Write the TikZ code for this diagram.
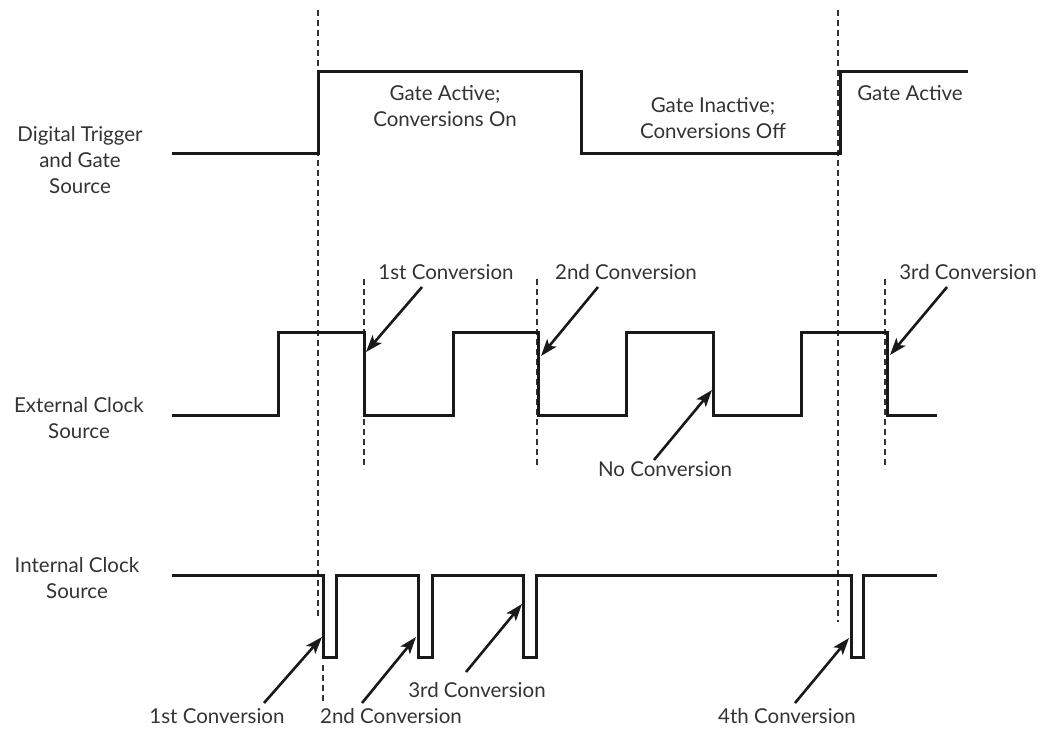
\documentclass[tikz,border=0pt]{standalone}
\usepackage{fontspec}
\setmainfont{Lato}
\usetikzlibrary{arrows,arrows.meta,positioning}
\usepackage{xcolor}

\begin{document}
\begin{tikzpicture}[x=1pt, y=-1pt, every node/.style={
    inner sep=0pt,
    align=center,
    text=black!80,
    font=\fontsize{20.5}{26}\selectfont
}]
    \useasboundingbox (0,0) rectangle (1048,736);

    % signal names
    \node (trigger_name) at (80,160) {Digital Trigger\\and Gate\\Source};
    \node (ext_clock_name) at (79,418) {External Clock\\Source};
    \node (int_clock_name) at (77,578) {Internal Clock\\Source};

    % gate states
    \node (gate_on) at (445,106) {Gate Active;\\Conversions On};
    \node (gate_off) at (713,118) {Gate Inactive;\\Conversions Off};
    \node (gate_on_again) at (910,93) {Gate Active};

    % external clock labels
    \node (ext_conv_1) at (446,272) {1st Conversion};
    \node (ext_conv_2) at (626,272) {2nd Conversion};
    \node (ext_conv_3) at (968,272) {3rd Conversion};
    \node (ext_no_conv) at (665,469) {No Conversion};

    % internal clock labels
    \node (int_conv_1) at (217,716) {1st Conversion};
    \node (int_conv_2) at (391,716) {2nd Conversion};
    \node (int_conv_3) at (477,690) {3rd Conversion};
    \node (int_conv_4) at (787,716) {4th Conversion};

    % arrow ends
    \coordinate (ext_conv_1_tail) at (422,287);
    \coordinate (ext_conv_1_tip) at (366,352);
    \coordinate (ext_conv_2_tail) at (598,287);
    \coordinate (ext_conv_2_tip) at (541,356);
    \coordinate (ext_conv_3_tail) at (947,287);
    \coordinate (ext_conv_3_tip) at (890,355);
    \coordinate (ext_no_conv_tail) at (654,460);
    \coordinate (ext_no_conv_tip) at (712,390);
    \coordinate (int_conv_1_tail) at (264,703);
    \coordinate (int_conv_1_tip) at (322,637);
    \coordinate (int_conv_2_tail) at (362,703);
    \coordinate (int_conv_2_tip) at (416,637);
    \coordinate (int_conv_3_tail) at (466,672);
    \coordinate (int_conv_3_tip) at (522,604);
    \coordinate (int_conv_4_tail) at (795,703);
    \coordinate (int_conv_4_tip) at (849,638);

    % time markers
    \draw[black!80, line width=1.2pt, dash pattern=on 6pt off 4pt] (318,10) -- (318,618);
    \draw[black!80, line width=1.2pt, dash pattern=on 6pt off 4pt] (323,665) -- (323,702);
    \draw[black!80, line width=1.2pt, dash pattern=on 6pt off 4pt] (838,10) -- (838,622);
    \draw[black!80, line width=1.2pt, dash pattern=on 6pt off 4pt] (364,279) -- (364,469);
    \draw[black!80, line width=1.2pt, dash pattern=on 6pt off 4pt] (537,279) -- (537,469);
    \draw[black!80, line width=1.2pt, dash pattern=on 6pt off 4pt] (885,279) -- (885,469);

    % waveforms
    \draw[black!90, line width=3pt]
        (172,153) -- (318,153) -- (318,71) -- (581,71) -- (581,153)
        -- (840,153) -- (840,71) -- (968,71);

    \draw[black!90, line width=3pt]
        (172,415) -- (278,415) -- (278,332) -- (364,332) -- (364,415)
        -- (453,415) -- (453,332) -- (538,332) -- (538,415)
        -- (626,415) -- (626,332) -- (713,332) -- (713,415)
        -- (801,415) -- (801,332) -- (887,332) -- (887,415) -- (937,415);

    \draw[black!90, line width=3pt]
        (172,575) -- (323,575) -- (323,657) -- (336,657) -- (336,575)
        -- (418,575) -- (418,657) -- (432,657) -- (432,575)
        -- (523,575) -- (523,657) -- (536,657) -- (536,575)
        -- (851,575) -- (851,657) -- (863,657) -- (863,575) -- (937,575);

    % pointers
    \draw[-{Stealth[length=17pt, width=12pt, inset=4pt]}, black!90, line width=2.6pt] (ext_conv_1_tail) to (ext_conv_1_tip);
    \draw[-{Stealth[length=17pt, width=12pt, inset=4pt]}, black!90, line width=2.6pt] (ext_conv_2_tail) to (ext_conv_2_tip);
    \draw[-{Stealth[length=17pt, width=12pt, inset=4pt]}, black!90, line width=2.6pt] (ext_conv_3_tail) to (ext_conv_3_tip);
    \draw[-{Stealth[length=17pt, width=12pt, inset=4pt]}, black!90, line width=2.6pt] (ext_no_conv_tail) to (ext_no_conv_tip);
    \draw[-{Stealth[length=17pt, width=12pt, inset=4pt]}, black!90, line width=2.6pt] (int_conv_1_tail) to (int_conv_1_tip);
    \draw[-{Stealth[length=17pt, width=12pt, inset=4pt]}, black!90, line width=2.6pt] (int_conv_2_tail) to (int_conv_2_tip);
    \draw[-{Stealth[length=17pt, width=12pt, inset=4pt]}, black!90, line width=2.6pt] (int_conv_3_tail) to (int_conv_3_tip);
    \draw[-{Stealth[length=17pt, width=12pt, inset=4pt]}, black!90, line width=2.6pt] (int_conv_4_tail) to (int_conv_4_tip);
\end{tikzpicture}
\end{document}
